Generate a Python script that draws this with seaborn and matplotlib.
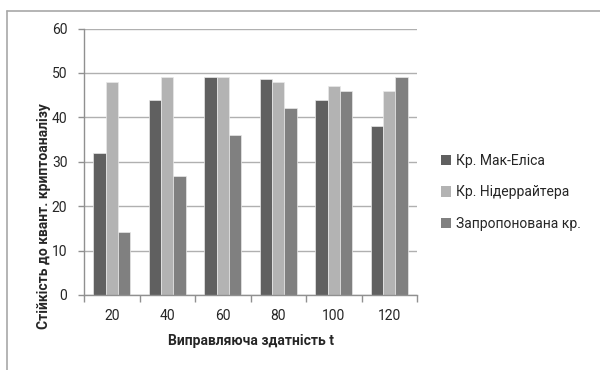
import matplotlib
matplotlib.use("Agg")
import matplotlib.pyplot as plt
from matplotlib.lines import Line2D
from matplotlib.patches import Patch
import seaborn as sns
import pandas as pd

# Correcting capability t (categories)
t_values = ["20", "40", "60", "80", "100", "120"]

# Resistance to quantum cryptanalysis for each cryptosystem
mceliece = [32, 44, 49, 48.6, 44, 38]
niederreiter = [48, 49, 49, 48, 47, 46]
proposed = [14.2, 26.8, 36, 42, 46, 49]

series_names = ["Кр. Мак-Еліса", "Кр. Нідеррайтера", "Запропонована кр."]
colors = ["#606060", "#b3b3b3", "#808080"]

rows = []
for name, vals in zip(series_names, [mceliece, niederreiter, proposed]):
    for t, v in zip(t_values, vals):
        rows.append({"t": t, "value": v, "series": name})
df = pd.DataFrame(rows)

sns.set_theme(style="white")
plt.rcParams["font.family"] = ["Roboto", "DejaVu Sans"]

fig = plt.figure(figsize=(6.0, 3.7), dpi=100)
ax = fig.add_axes([84 / 600, 1 - 295 / 370, 333 / 600, 266.5 / 370])

sns.barplot(data=df, x="t", y="value", hue="series", order=t_values,
            hue_order=series_names, palette=colors, width=0.667,
            edgecolor="#e8e8e8", linewidth=0.5, saturation=1,
            legend=False, ax=ax)

ax.set_ylim(0, 60)
ax.set_xlim(-0.5, len(t_values) - 0.5)
ax.set_yticks(range(0, 61, 10))
ax.yaxis.grid(True, color="#b0b0b0", linewidth=1.0)
ax.set_axisbelow(True)

for side in ["top", "right"]:
    ax.spines[side].set_visible(False)
for side in ["left", "bottom"]:
    ax.spines[side].set_color("#909090")
    ax.spines[side].set_linewidth(1.0)

ax.tick_params(axis="y", which="major", length=4, width=1, color="#909090",
               direction="out", labelsize=10, pad=8, left=True)
ax.tick_params(axis="x", which="major", length=0, labelsize=10, pad=10)
ax.set_xticks([i - 0.5 for i in range(len(t_values) + 1)], minor=True)
ax.tick_params(axis="x", which="minor", length=5, width=1, color="#909090",
               direction="out", bottom=True)

ax.set_xlabel("Виправляюча здатність t", fontsize=10, fontweight="bold",
              labelpad=8)
ax.set_ylabel("Стійкість до квант. криптоаналізу", fontsize=10,
              fontweight="bold")
ax.yaxis.set_label_coords(-0.1, 0.297)

handles = [Patch(facecolor=c, edgecolor="none") for c in colors]
fig.legend(handles, series_names, loc="upper left",
           bbox_to_anchor=(441 / 600, 1 - 154 / 370), frameon=False,
           fontsize=10, handlelength=0.75, handleheight=0.75,
           handletextpad=0.3, labelspacing=1.25, borderpad=0,
           borderaxespad=0)

# Chart area frame (left and top edges)
frame_color = "#a8a8a8"
fig.add_artist(Line2D([7 / 600, 1], [1 - 10.5 / 370, 1 - 10.5 / 370],
                      transform=fig.transFigure, color=frame_color, lw=1.2))
fig.add_artist(Line2D([7 / 600, 7 / 600], [0, 1 - 10.5 / 370],
                      transform=fig.transFigure, color=frame_color, lw=1.2))

fig.savefig("out.png", dpi=100, facecolor="white")
